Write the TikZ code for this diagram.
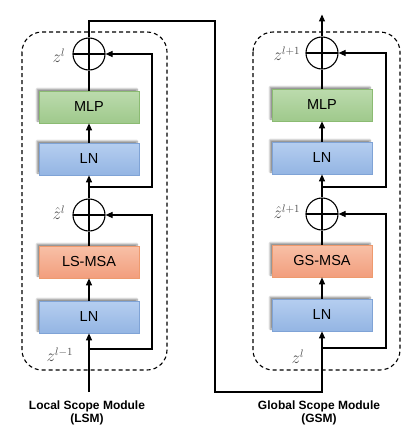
\documentclass[tikz,border=0pt]{standalone}
\usepackage{amsmath,amssymb}
\usepackage[no-math]{fontspec}
\newfontfamily\boxfont{Liberation Sans}
\usetikzlibrary{calc,arrows.meta,positioning,shadows.blur}

\definecolor{mlptop}{HTML}{BCDBAD}
\definecolor{mlpbot}{HTML}{9FC98C}
\definecolor{mlpline}{HTML}{8BBB72}
\definecolor{lntop}{HTML}{B5CEF0}
\definecolor{lnbot}{HTML}{94B5E3}
\definecolor{lnline}{HTML}{7FA3D6}
\definecolor{msatop}{HTML}{F8C0A7}
\definecolor{msabot}{HTML}{F29E7D}
\definecolor{msaline}{HTML}{EE9A6E}

\tikzset{
    blk/.style = {draw, minimum width = 100pt, minimum height = 32pt, line width = 0.7pt,
        font = \boxfont\fontsize{14.5}{16}\selectfont,
        blur shadow = {shadow xshift = -2pt, shadow yshift = 2pt, shadow blur steps = 6, shadow opacity = 45}},
    mlpblk/.style = {blk, draw = mlpline, top color = mlptop, bottom color = mlpbot},
    lnblk/.style = {blk, draw = lnline, top color = lntop, bottom color = lnbot},
    msablk/.style = {blk, draw = msaline, top color = msatop, bottom color = msabot},
    add/.style = {draw, circle, minimum size = 32pt, inner sep = 0pt, line width = 1.1pt,
        path picture = {
            \path[draw, line width = 1.1pt](path picture bounding box.west)to(path picture bounding box.east);
            \path[draw, line width = 1.1pt](path picture bounding box.north)to(path picture bounding box.south);
        }},
    arr/.style = {-{Triangle[length = 7pt, width = 6pt]}},
    lbl/.style = {text = black!70, font = \fontsize{16}{18}\selectfont},
    modbox/.style = {dash pattern = on 4pt off 3pt, rounded corners = 20pt, line width = 1.1pt},
    modtxt/.style = {align = center, font = \boxfont\bfseries\fontsize{12}{13.5}\selectfont},
}

\begin{document}
\begin{tikzpicture}[x = 1pt, y = -1pt, line width = 1.1pt]
    \useasboundingbox(0,0)rectangle(416,432);
    % modules
    \path[draw, modbox](22,32)rectangle(167,370);
    \path[draw, modbox](253,32)rectangle(400,370);

    % LSM
    \node[lnblk](ln1)at(89,317){LN};
    \node[msablk](msa1)at(89,262){LS-MSA};
    \node[add](add1)at(89,215){};
    \node[lnblk](ln2)at(89,159){LN};
    \node[mlpblk](mlp1)at(89,107){MLP};
    \node[add](add2)at(89,54){};
    \node[lbl, anchor = east](zh1)at(69,213){$\hat{z}^{l}$};
    \node[lbl, anchor = east](z2)at(69,56){$z^{l}$};
    \coordinate(in1)at(89,392);
    \coordinate(br1)at(89,349);
    \coordinate(br2)at(89,187);
    \node[lbl, anchor = east](zin1)at(77,355){$z^{l-1}$};

    % GSM
    \node[lnblk](ln3)at(322,315){LN};
    \node[msablk](msa2)at(322,261){GS-MSA};
    \node[add](add3)at(322,214){};
    \node[lnblk](ln4)at(322,158){LN};
    \node[mlpblk](mlp2)at(322,105){MLP};
    \node[add](add4)at(322,53){};
    \node[lbl, anchor = east](zh3)at(304,212){$\hat{z}^{l+1}$};
    \node[lbl, anchor = east](z4)at(304,54){$z^{l+1}$};
    \coordinate(in3)at(322,392);
    \coordinate(br3)at(322,348);
    \coordinate(br4)at(322,187);
    \node[lbl, anchor = east](zin3)at(308,357){$z^{l}$};

    % LSM arrows
    \path[draw, arr](in1)to(ln1);
    \path[draw, arr](ln1)to(msa1);
    \path[draw](msa1)to(add1);
    \path[draw, arr](add1)to(ln2);
    \path[draw, arr](ln2)to(mlp1);
    \path[draw](mlp1)to(add2);
    \path[draw, arr](br1)to++(63,0)|-(add1.east);
    \path[draw, arr](br2)to++(63,0)|-(add2.east);

    % LSM -> GSM
    \path[draw, arr](add2.north)|-(215,21)--(215,392)-|(ln3.south);

    % GSM arrows
    \path[draw, arr](ln3)to(msa2);
    \path[draw](msa2)to(add3);
    \path[draw, arr](add3)to(ln4);
    \path[draw, arr](ln4)to(mlp2);
    \path[draw](mlp2)to(add4);
    \path[draw, arr](br3)to++(64,0)|-(add3.east);
    \path[draw, arr](br4)to++(64,0)|-(add4.east);
    \path[draw, arr](add4.north)to++(0,-22);

    % captions
    \node[modtxt](lsm)at(87,413){Local Scope Module\\(LSM)};
    \node[modtxt](gsm)at(319,413){Global Scope Module\\(GSM)};
\end{tikzpicture}
\end{document}
